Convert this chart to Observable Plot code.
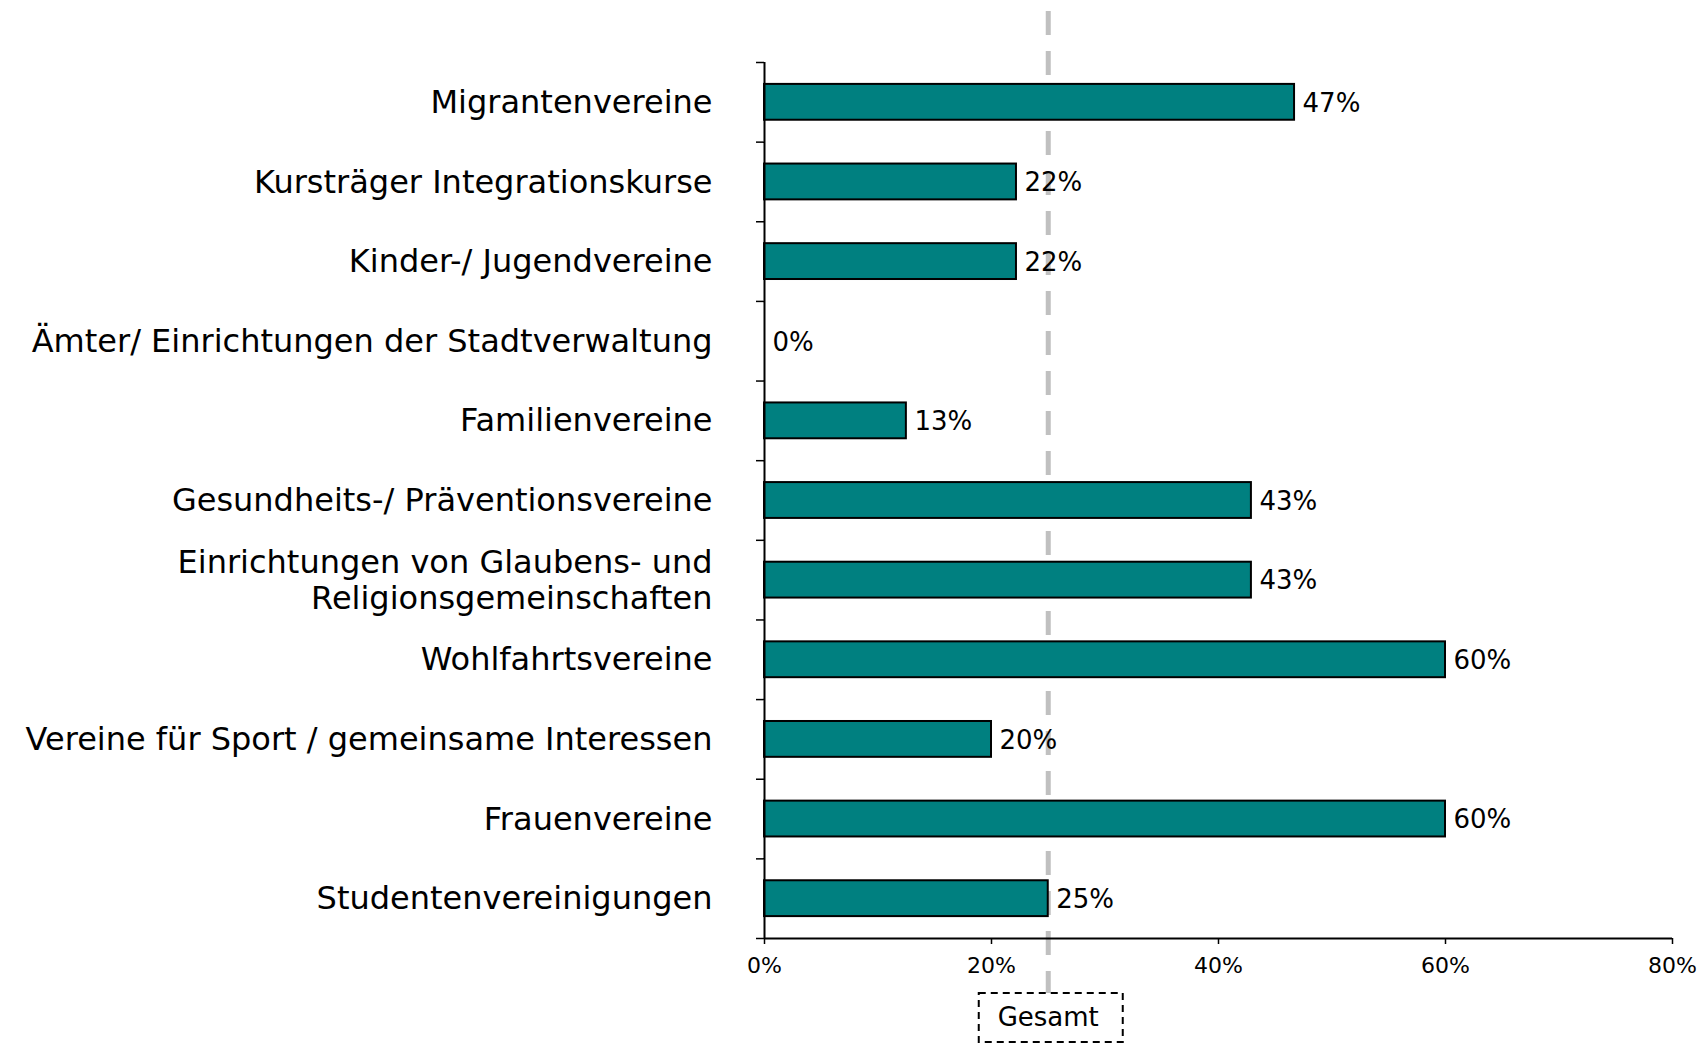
<!DOCTYPE html>
<html>
<head>
<meta charset="utf-8">
<script src="https://cdn.jsdelivr.net/npm/d3@7"></script>
<script src="https://cdn.jsdelivr.net/npm/@observablehq/plot@0.6"></script>
<style>
  html, body { margin: 0; padding: 0; background: #fff; }
  svg { font-family: "DejaVu Sans", Verdana, sans-serif; }
</style>
</head>
<body>
<div id="chart"></div>
<script>
const categories = [
  "Migrantenvereine",
  "Kursträger Integrationskurse",
  "Kinder-/ Jugendvereine",
  "Ämter/ Einrichtungen der Stadtverwaltung",
  "Familienvereine",
  "Gesundheits-/ Präventionsvereine",
  "Einrichtungen von Glaubens- und\nReligionsgemeinschaften",
  "Wohlfahrtsvereine",
  "Vereine für Sport / gemeinsame Interessen",
  "Frauenvereine",
  "Studentenvereinigungen"
];
const values = [46.7, 22.2, 22.2, 0, 12.5, 42.9, 42.9, 60, 20, 60, 25];
const xTicks = [0, 20, 40, 60, 80];
const gesamt = 25;
const gesamtLabel = "Gesamt";

const data = categories.map((c, i) => ({category: c, i, value: values[i]}));
const pad = 0.275;

const chart = Plot.plot({
  width: 1706,
  height: 1044,
  marginLeft: 764,
  marginRight: 34,
  marginTop: 62,
  marginBottom: 106,
  style: {fontFamily: "DejaVu Sans, Verdana, sans-serif", background: "white"},
  x: {domain: [0, 80]},
  y: {domain: [0, categories.length], reverse: true},
  marks: [
    Plot.ruleX([gesamt], {stroke: "#c0c0c0", strokeWidth: 5, strokeDasharray: "24,16", insetTop: -51, insetBottom: -55}),
    Plot.rectX(data.filter(d => d.value > 0), {
      x1: 0, x2: "value",
      y1: d => d.i + pad, y2: d => d.i + 1 - pad,
      fill: "#008080", stroke: "black", strokeWidth: 2
    }),
    Plot.text(data, {
      x: "value", y: d => d.i + 0.5,
      text: d => Math.round(d.value) + "%",
      textAnchor: "start", dx: 8, dy: 1, fontSize: 26, fill: "black"
    }),
    Plot.ruleX([0], {stroke: "black", strokeWidth: 2}),
    Plot.ruleY([categories.length], {stroke: "black", strokeWidth: 2}),
    Plot.axisY({ticks: d3.range(0, categories.length + 1), tickSize: 8, tickFormat: () => "", strokeWidth: 1.5, label: null}),
    Plot.axisY({
      ticks: d3.range(0, categories.length).map(i => i + 0.5),
      tickSize: 0, tickPadding: 52,
      tickFormat: v => categories[Math.floor(v)],
      fontSize: 32, lineHeight: 1.13, dy: -1, fill: "black", textOverflow: null, label: null
    }),
    Plot.axisX({
      ticks: xTicks, tickSize: 6, tickPadding: 13,
      tickFormat: d => d + "%", fontSize: 22, fill: "black", strokeWidth: 1.5, label: null
    }),
    Plot.text([gesamt], {x: d => d, frameAnchor: "bottom", dy: 79, text: () => gesamtLabel, fontSize: 26, fill: "black", lineAnchor: "middle"})
  ]
});

const sx = chart.scale("x").apply(gesamt);
d3.select(chart).append("rect")
  .attr("x", sx - 69).attr("y", 993)
  .attr("width", 144).attr("height", 49)
  .attr("fill", "none").attr("stroke", "black")
  .attr("stroke-width", 2).attr("stroke-dasharray", "7,5");

document.getElementById("chart").appendChild(chart);
</script>
</body>
</html>
